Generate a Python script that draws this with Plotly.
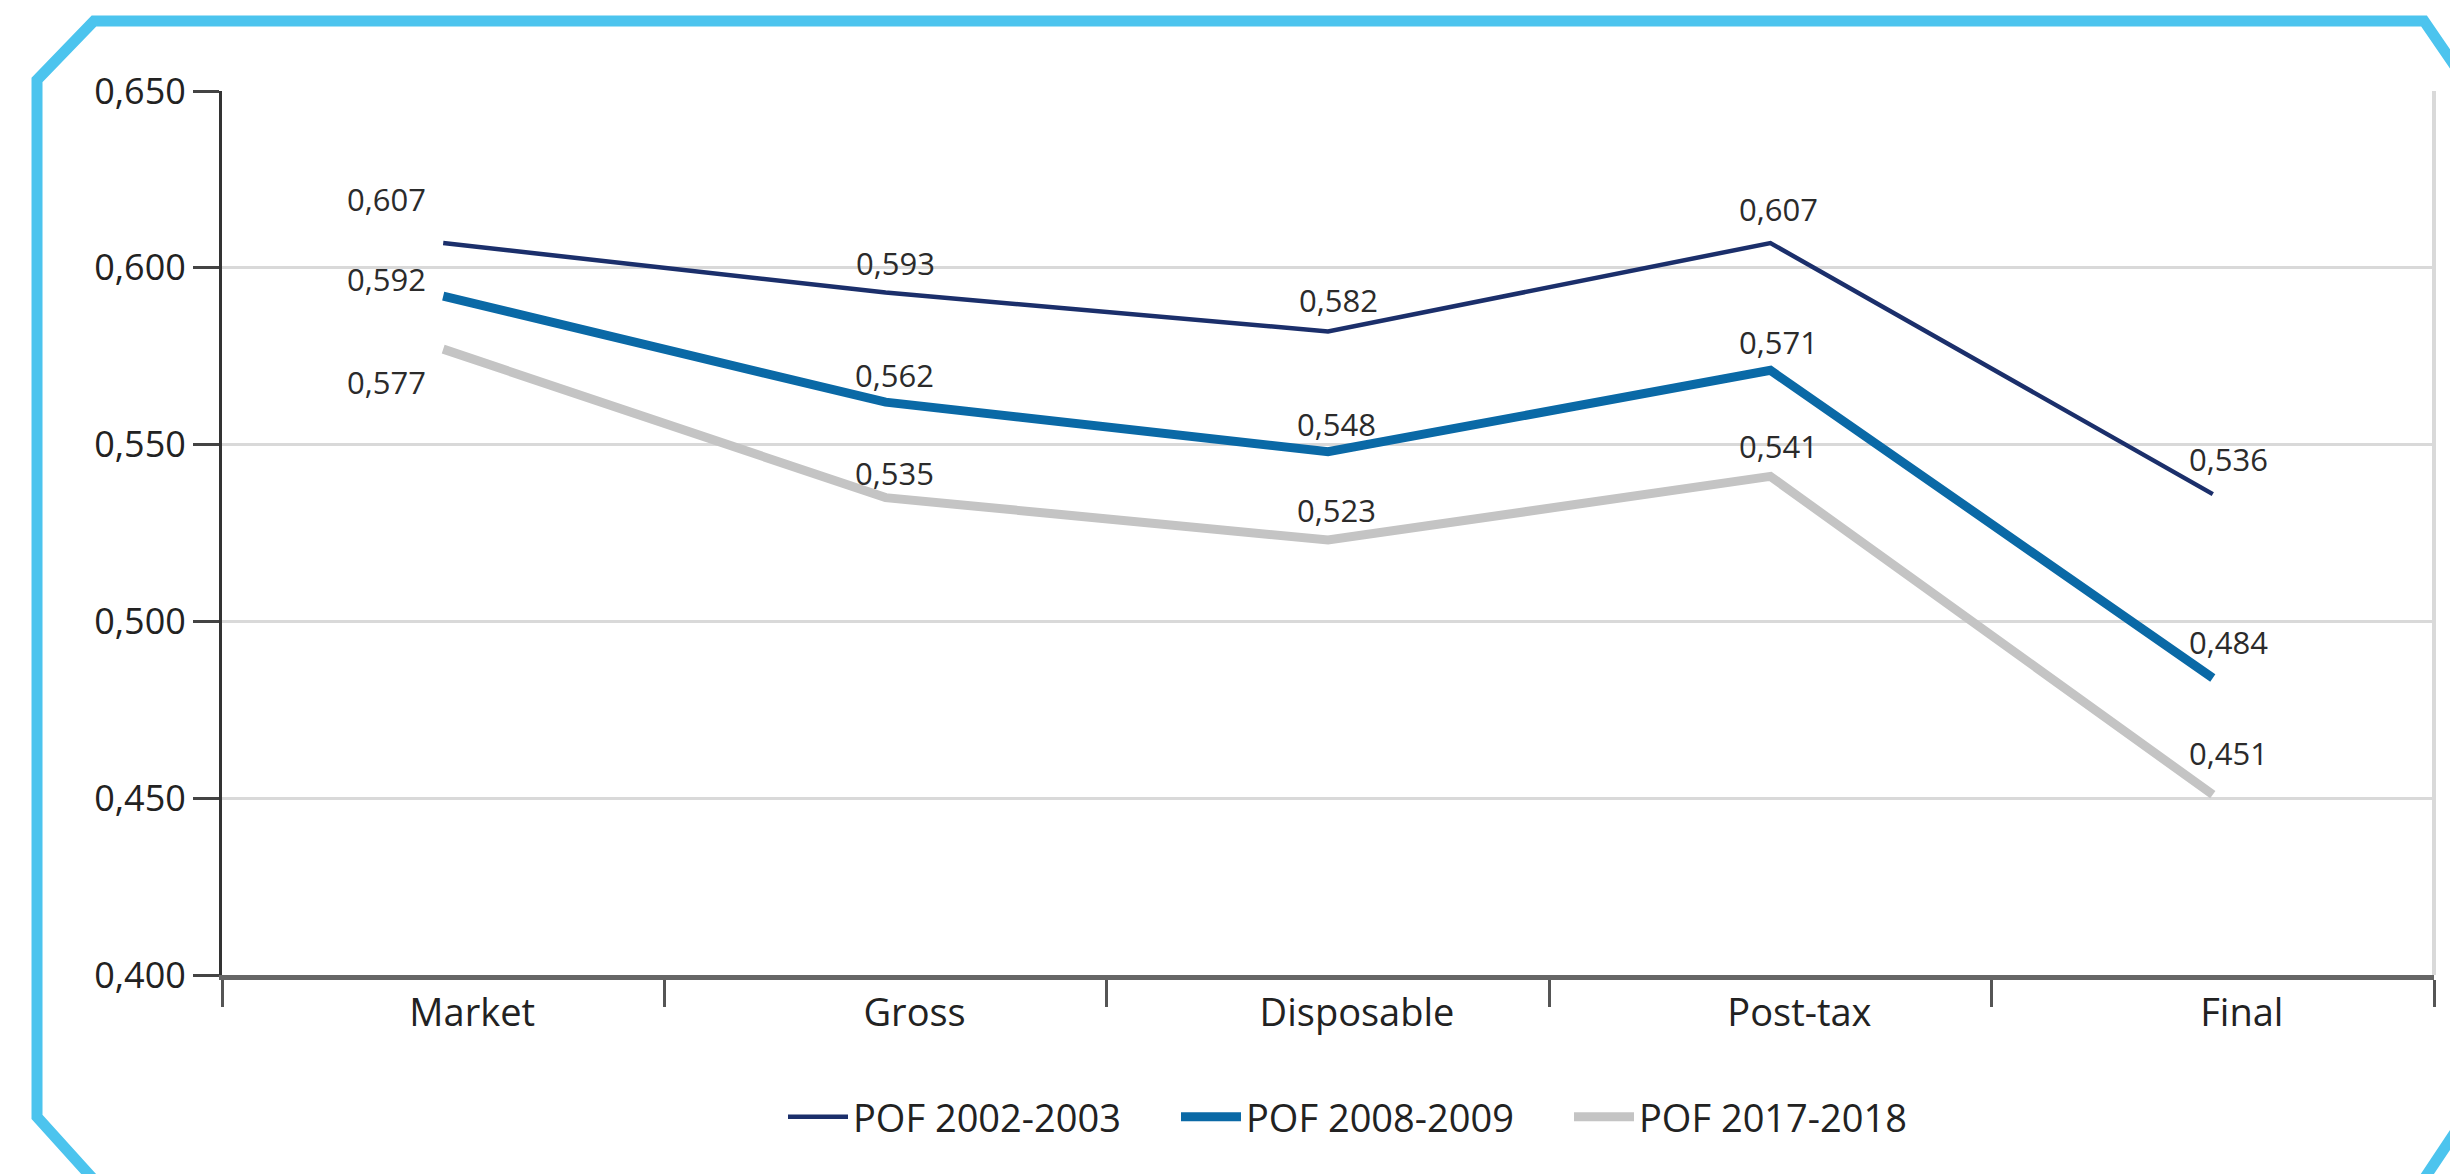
import plotly.graph_objects as go

categories = ["Market", "Gross", "Disposable", "Post-tax", "Final"]
series_names = ["POF 2002-2003", "POF 2008-2009", "POF 2017-2018"]
pof_2002 = [0.607, 0.593, 0.582, 0.607, 0.536]
pof_2008 = [0.592, 0.562, 0.548, 0.571, 0.484]
pof_2017 = [0.577, 0.535, 0.523, 0.541, 0.451]
y_ticks = [0.400, 0.450, 0.500, 0.550, 0.600, 0.650]

series_values = [pof_2002, pof_2008, pof_2017]
colors = ["#1b2f6b", "#0a69a6", "#c4c4c4"]
widths = [4.5, 9, 9]

# label offsets in pixels (style)
label_dx = [[-57, 10, 10, 8, 16], [-57, 9, 8, 8, 16], [-57, 9, 8, 8, 16]]
label_dy = [[44, 30, 31, 34, 35], [17, 27, 28, 28, 36], [-33, 25, 30, 30, 42]]

W, H = 2458, 1174
OFF = 8  # page body margin
L, R, T, B = 222 - OFF, 2434 - OFF, 91 - OFF, 975 - OFF  # plot area in figure px

def px(x):
    return (x - OFF - L) / (R - L)

def py(y):
    return (B - (y - OFF)) / (B - T)

fig = go.Figure()
for name, vals, c, w in zip(series_names, series_values, colors, widths):
    fig.add_trace(go.Scatter(x=categories, y=vals, mode="lines", name=name,
                             line=dict(color=c, width=w), cliponaxis=False))

annotations = []
for si, vals in enumerate(series_values):
    for ci, v in enumerate(vals):
        annotations.append(dict(x=categories[ci], y=v, xref="x", yref="y",
                                text=f"{v:.3f}".replace(".", ","), showarrow=False,
                                xshift=label_dx[si][ci], yshift=label_dy[si][ci],
                                font=dict(family="Open Sans", size=31, color="#2b2b2b")))

frame_pts = [(94, 21), (2424, 21), (2470, 88), (2470, 1110), (2420, 1185),
             (94, 1180), (37, 1117), (37, 80)]
path = "M " + " L ".join(f"{px(x):.5f},{py(y):.5f}" for x, y in frame_pts) + " Z"

shapes = [
    dict(type="path", xref="paper", yref="paper", path=path,
         line=dict(color="#4cc4ee", width=11), fillcolor="rgba(0,0,0,0)", layer="below"),
    dict(type="line", xref="paper", yref="paper", x0=1, x1=1, y0=0, y1=1,
         line=dict(color="#d9d9d9", width=4), layer="below"),
]

fig.update_layout(
    width=W, height=H,
    margin=dict(l=L, r=W - R, t=T, b=H - B),
    paper_bgcolor="white", plot_bgcolor="white",
    separators=",.",
    font=dict(family="Open Sans", size=36, color="#222222"),
    showlegend=True,
    legend=dict(orientation="h", x=px(783), xanchor="left", y=py(1117), yanchor="middle",
                font=dict(family="Open Sans", size=38, color="#222222"),
                itemwidth=60, entrywidth=318, entrywidthmode="pixels",
                bgcolor="rgba(0,0,0,0)"),
    annotations=annotations,
    shapes=shapes,
    xaxis=dict(range=[-0.5, 4.5], showgrid=False, showline=True, linecolor="#666666",
               linewidth=5, ticks="outside", tickson="boundaries", ticklen=27,
               tickwidth=3, tickcolor="#555555", ticklabelshift=29,
               tickfont=dict(family="Open Sans", size=38, color="#222222"), zeroline=False),
    yaxis=dict(range=[0.400, 0.650], tickvals=y_ticks, tickformat=".3f",
               showgrid=True, gridcolor="#d9d9d9", gridwidth=3,
               showline=True, linecolor="#333333", linewidth=3,
               ticks="outside", ticklen=26, tickwidth=3, tickcolor="#444444",
               tickfont=dict(family="Open Sans", size=36, color="#222222"), zeroline=False),
)

fig.write_html("out.html")
